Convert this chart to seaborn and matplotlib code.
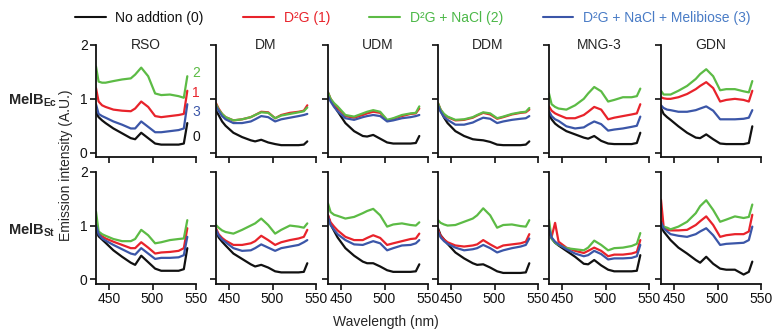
import numpy as np
import pandas as pd
import matplotlib
matplotlib.use("Agg")
import matplotlib.pyplot as plt
from matplotlib.lines import Line2D
import seaborn as sns

# wavelength grid (nm) shared by every trace
wavelength = [435, 438, 442, 446, 455, 465, 475, 480, 487, 495, 503, 510, 520, 530, 536, 540]

detergents = ["RSO", "DM", "UDM", "DDM", "MNG-3", "GDN"]
conditions = ["No addtion (0)", "D\u00b2G (1)", "D\u00b2G + NaCl (2)", "D\u00b2G + NaCl + Melibiose (3)"]
line_colors = ["#111111", "#e8232b", "#5cbb45", "#3b56a8"]
text_colors = ["#111111", "#e8232b", "#4cb848", "#4a7cc6"]

# MelB_Ec, each panel = [cond 0, cond 1, cond 2, cond 3]
ec_rso = [
    [0.75, 0.66, 0.60, 0.55, 0.45, 0.36, 0.27, 0.25, 0.37, 0.27, 0.17, 0.15, 0.15, 0.15, 0.17, 0.55],
    [1.20, 0.95, 0.88, 0.85, 0.80, 0.78, 0.77, 0.82, 0.95, 0.85, 0.68, 0.66, 0.68, 0.70, 0.72, 1.15],
    [1.60, 1.32, 1.30, 1.30, 1.33, 1.36, 1.38, 1.45, 1.58, 1.42, 1.10, 1.07, 1.08, 1.05, 1.02, 1.42],
    [0.90, 0.72, 0.68, 0.65, 0.58, 0.52, 0.45, 0.45, 0.58, 0.48, 0.38, 0.38, 0.40, 0.42, 0.45, 0.90],
]
ec_dm = [
    [0.78, 0.70, 0.58, 0.50, 0.37, 0.29, 0.23, 0.21, 0.24, 0.19, 0.16, 0.14, 0.14, 0.14, 0.15, 0.21],
    [0.92, 0.82, 0.72, 0.66, 0.60, 0.62, 0.66, 0.70, 0.76, 0.75, 0.64, 0.70, 0.74, 0.76, 0.78, 0.88],
    [0.90, 0.80, 0.72, 0.66, 0.60, 0.62, 0.66, 0.70, 0.75, 0.74, 0.64, 0.69, 0.72, 0.75, 0.77, 0.84],
    [0.86, 0.78, 0.68, 0.62, 0.55, 0.55, 0.58, 0.62, 0.68, 0.66, 0.58, 0.62, 0.65, 0.68, 0.70, 0.72],
]
ec_udm = [
    [1.10, 0.98, 0.88, 0.77, 0.55, 0.40, 0.31, 0.30, 0.33, 0.26, 0.19, 0.17, 0.17, 0.17, 0.18, 0.31],
    [1.12, 1.00, 0.90, 0.83, 0.68, 0.65, 0.70, 0.73, 0.76, 0.74, 0.60, 0.63, 0.68, 0.72, 0.73, 0.82],
    [1.12, 1.00, 0.92, 0.86, 0.70, 0.67, 0.73, 0.76, 0.79, 0.76, 0.61, 0.64, 0.70, 0.73, 0.74, 0.86],
    [1.05, 0.95, 0.85, 0.77, 0.64, 0.61, 0.66, 0.68, 0.70, 0.68, 0.58, 0.60, 0.64, 0.66, 0.68, 0.70],
]
ec_ddm = [
    [0.90, 0.78, 0.65, 0.55, 0.40, 0.31, 0.25, 0.24, 0.23, 0.20, 0.15, 0.14, 0.14, 0.14, 0.15, 0.21],
    [0.92, 0.80, 0.70, 0.66, 0.60, 0.61, 0.65, 0.69, 0.74, 0.71, 0.63, 0.66, 0.71, 0.74, 0.75, 0.80],
    [0.92, 0.80, 0.72, 0.67, 0.61, 0.62, 0.66, 0.70, 0.75, 0.73, 0.64, 0.67, 0.72, 0.75, 0.76, 0.83],
    [0.88, 0.76, 0.66, 0.61, 0.52, 0.52, 0.56, 0.60, 0.65, 0.63, 0.55, 0.58, 0.61, 0.63, 0.64, 0.68],
]
ec_mng = [
    [0.72, 0.62, 0.54, 0.49, 0.40, 0.34, 0.28, 0.26, 0.31, 0.22, 0.17, 0.16, 0.16, 0.16, 0.18, 0.37],
    [0.86, 0.78, 0.73, 0.70, 0.64, 0.64, 0.70, 0.76, 0.85, 0.80, 0.62, 0.65, 0.68, 0.71, 0.73, 0.90],
    [1.10, 0.90, 0.85, 0.82, 0.80, 0.88, 1.00, 1.10, 1.22, 1.14, 0.95, 0.98, 1.03, 1.03, 1.05, 1.19],
    [0.77, 0.68, 0.62, 0.59, 0.49, 0.45, 0.47, 0.52, 0.58, 0.53, 0.41, 0.43, 0.45, 0.48, 0.50, 0.67],
]
ec_gdn = [
    [0.83, 0.72, 0.66, 0.61, 0.49, 0.37, 0.28, 0.27, 0.34, 0.25, 0.17, 0.16, 0.16, 0.16, 0.18, 0.49],
    [1.03, 1.01, 1.00, 1.00, 1.03, 1.09, 1.18, 1.24, 1.31, 1.20, 0.95, 0.98, 1.00, 0.98, 0.95, 1.15],
    [1.15, 1.08, 1.08, 1.08, 1.15, 1.24, 1.37, 1.46, 1.55, 1.42, 1.16, 1.18, 1.18, 1.14, 1.12, 1.33],
    [0.88, 0.83, 0.80, 0.79, 0.76, 0.76, 0.79, 0.82, 0.86, 0.78, 0.62, 0.62, 0.62, 0.63, 0.65, 0.79],
]

# MelB_St
st_rso = [
    [0.92, 0.80, 0.74, 0.68, 0.54, 0.42, 0.31, 0.27, 0.44, 0.32, 0.20, 0.16, 0.16, 0.16, 0.19, 0.58],
    [1.01, 0.87, 0.80, 0.76, 0.70, 0.64, 0.58, 0.58, 0.69, 0.59, 0.48, 0.50, 0.51, 0.53, 0.58, 0.95],
    [1.26, 0.89, 0.84, 0.81, 0.75, 0.71, 0.71, 0.75, 0.92, 0.82, 0.67, 0.69, 0.73, 0.75, 0.76, 1.10],
    [1.01, 0.84, 0.76, 0.72, 0.64, 0.56, 0.48, 0.46, 0.58, 0.48, 0.38, 0.40, 0.40, 0.41, 0.45, 0.79],
]
st_dm = [
    [0.92, 0.78, 0.70, 0.63, 0.48, 0.38, 0.28, 0.24, 0.27, 0.22, 0.15, 0.13, 0.13, 0.13, 0.14, 0.30],
    [0.95, 0.84, 0.77, 0.72, 0.64, 0.64, 0.67, 0.71, 0.81, 0.73, 0.64, 0.69, 0.73, 0.76, 0.79, 0.92],
    [1.01, 0.96, 0.91, 0.88, 0.85, 0.92, 1.00, 1.04, 1.13, 1.01, 0.85, 0.92, 1.00, 0.98, 0.96, 1.04],
    [0.92, 0.82, 0.74, 0.69, 0.58, 0.53, 0.54, 0.58, 0.65, 0.59, 0.53, 0.58, 0.61, 0.64, 0.69, 0.73],
]
st_udm = [
    [1.19, 1.02, 0.90, 0.78, 0.58, 0.44, 0.33, 0.30, 0.30, 0.24, 0.17, 0.14, 0.14, 0.14, 0.15, 0.28],
    [1.19, 1.06, 0.98, 0.91, 0.79, 0.73, 0.73, 0.77, 0.82, 0.77, 0.64, 0.67, 0.71, 0.75, 0.76, 0.85],
    [1.41, 1.25, 1.20, 1.18, 1.13, 1.16, 1.23, 1.27, 1.31, 1.19, 0.98, 1.02, 1.04, 1.01, 1.00, 1.06],
    [1.16, 1.01, 0.92, 0.84, 0.73, 0.65, 0.64, 0.67, 0.71, 0.67, 0.54, 0.58, 0.63, 0.64, 0.67, 0.73],
]
st_ddm = [
    [0.95, 0.82, 0.74, 0.66, 0.50, 0.39, 0.30, 0.27, 0.28, 0.22, 0.15, 0.12, 0.12, 0.12, 0.13, 0.30],
    [0.92, 0.81, 0.74, 0.69, 0.63, 0.61, 0.63, 0.65, 0.73, 0.65, 0.58, 0.63, 0.65, 0.67, 0.70, 0.84],
    [1.10, 1.05, 1.02, 1.00, 1.01, 1.07, 1.13, 1.19, 1.32, 1.19, 0.96, 1.01, 1.02, 0.99, 0.98, 1.10],
    [0.89, 0.78, 0.71, 0.66, 0.59, 0.54, 0.56, 0.58, 0.64, 0.58, 0.50, 0.54, 0.58, 0.61, 0.64, 0.76],
]
st_mng = [
    [0.92, 0.76, 0.68, 0.63, 0.53, 0.42, 0.29, 0.28, 0.36, 0.26, 0.18, 0.15, 0.15, 0.15, 0.16, 0.45],
    [0.89, 0.79, 1.05, 0.70, 0.59, 0.53, 0.49, 0.53, 0.59, 0.53, 0.43, 0.46, 0.46, 0.48, 0.51, 0.73],
    [1.10, 0.76, 0.68, 0.64, 0.58, 0.56, 0.54, 0.59, 0.72, 0.64, 0.54, 0.58, 0.59, 0.62, 0.66, 0.86],
    [0.95, 0.78, 0.70, 0.65, 0.56, 0.48, 0.43, 0.45, 0.53, 0.47, 0.37, 0.39, 0.39, 0.40, 0.43, 0.64],
]
st_gdn = [
    [1.01, 0.89, 0.81, 0.73, 0.59, 0.48, 0.36, 0.31, 0.42, 0.29, 0.20, 0.18, 0.18, 0.09, 0.14, 0.33],
    [1.48, 0.98, 0.92, 0.91, 0.91, 0.92, 1.01, 1.08, 1.17, 1.01, 0.79, 0.82, 0.84, 0.84, 0.89, 1.20],
    [1.01, 0.98, 0.96, 0.93, 0.98, 1.07, 1.23, 1.36, 1.47, 1.29, 1.07, 1.11, 1.17, 1.14, 1.16, 1.39],
    [1.07, 0.95, 0.89, 0.84, 0.81, 0.79, 0.84, 0.89, 0.95, 0.82, 0.64, 0.66, 0.67, 0.68, 0.73, 0.98],
]

rows = [
    [ec_rso, ec_dm, ec_udm, ec_ddm, ec_mng, ec_gdn],
    [st_rso, st_dm, st_udm, st_ddm, st_mng, st_gdn],
]
row_labels = [r"$\mathbf{MelB_{Ec}}$", r"$\mathbf{MelB_{St}}$"]
rso_marks = ["0", "1", "2", "3"]
rso_mark_y = [0.30, 1.11, 1.48, 0.76]


def panel_frame(series):
    parts = []
    for cond, vals in zip(conditions, series):
        parts.append(pd.DataFrame({"wavelength": wavelength, "intensity": vals, "condition": cond}))
    return pd.concat(parts, ignore_index=True)


sns.set_style("ticks")
plt.rcParams["font.family"] = ["Liberation Sans", "DejaVu Sans"]
plt.rcParams["mathtext.fontset"] = "custom"
plt.rcParams["mathtext.rm"] = "Liberation Sans"
plt.rcParams["mathtext.bf"] = "Liberation Sans:bold"

W, H = 773, 333
fig = plt.figure(figsize=(W / 100, H / 100), dpi=100)

lefts = [96, 216, 328, 438, 549, 661]
tops = [45, 171.7]
ax_w, ax_h = 100, 112

for r, panels in enumerate(rows):
    for c, series in enumerate(panels):
        ax = fig.add_axes([lefts[c] / W, (H - tops[r] - ax_h) / H, ax_w / W, ax_h / H])
        df = panel_frame(series)
        sns.lineplot(data=df, x="wavelength", y="intensity", hue="condition",
                     palette=dict(zip(conditions, line_colors)), legend=False,
                     estimator=None, linewidth=1.6, ax=ax)
        ax.set_xlim(435, 550)
        ax.set_ylim(-0.08, 2.0)
        ax.set_xticks([450, 500, 550])
        ax.set_yticks([0, 1, 2])
        ax.set_xlabel("")
        ax.set_ylabel("")
        sns.despine(ax=ax)
        for side in ["left", "bottom"]:
            ax.spines[side].set_linewidth(1.3)
            ax.spines[side].set_color("#111111")
        ax.tick_params(direction="out", length=4, width=1.2, labelsize=10, pad=2, colors="#111111")
        if c > 0:
            ax.set_yticklabels([])
        if r == 0:
            ax.set_xticklabels([])
            ax.text(0.5, 1.0, detergents[c], transform=ax.transAxes,
                    ha="center", va="center", fontsize=10)
        if r == 0 and c == 0:
            for lab, yv, col in zip(rso_marks, rso_mark_y, line_colors):
                ax.text(550, yv, lab, color=col, ha="center", va="center",
                        fontsize=10, clip_on=False)

    fig.text(8 / W, 1 - [100, 230][r] / H, row_labels[r], ha="left", va="center", fontsize=10.5)

handles = [Line2D([], [], color=col, lw=1.5) for col in line_colors]
leg = fig.legend(handles, conditions, loc="center left", bbox_to_anchor=(75 / W, 1 - 18 / H),
                 ncol=4, frameon=False, fontsize=10, handlelength=2.2, handletextpad=0.7,
                 columnspacing=2.85, borderaxespad=0, borderpad=0)
for txt, col in zip(leg.get_texts(), text_colors):
    txt.set_color(col)

fig.text(66 / W, 1 - 165 / H, "Emission intensity (A.U.)", rotation=90,
         ha="center", va="center", fontsize=10)
fig.text(386 / W, 1 - 322 / H, "Wavelength (nm)", ha="center", va="center", fontsize=10)

fig.savefig("out.png", dpi=100)
